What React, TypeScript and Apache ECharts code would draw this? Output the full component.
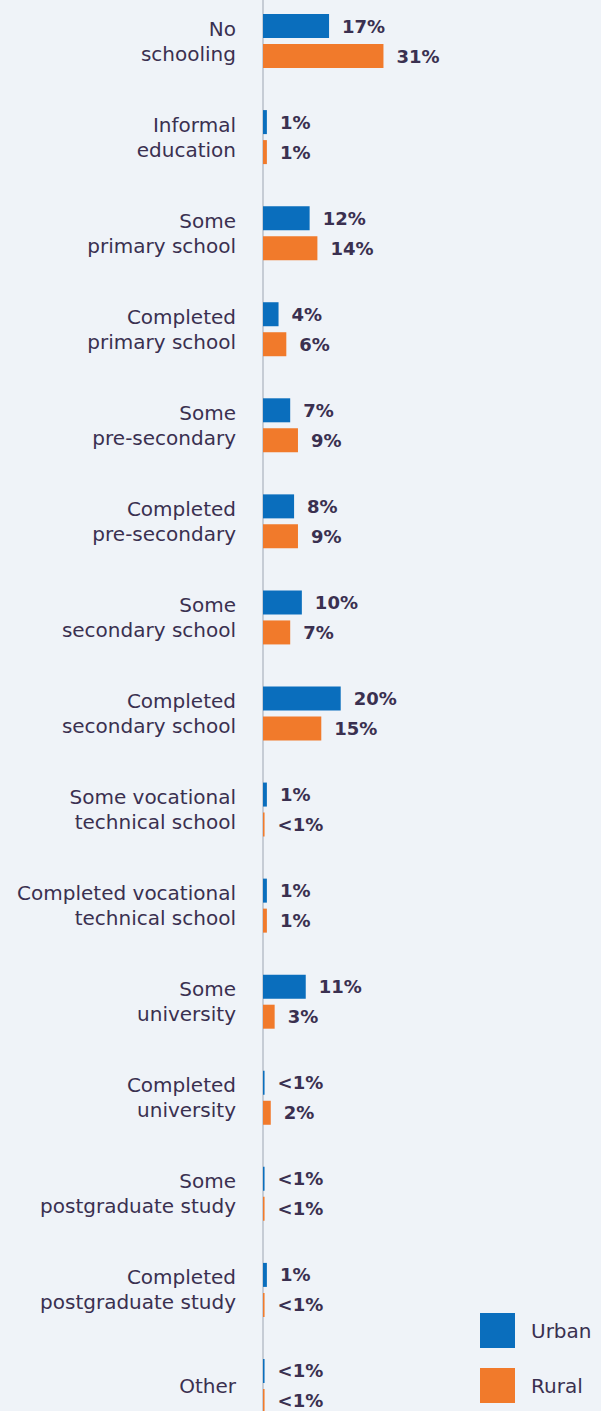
import React, { useEffect, useRef } from "react";
import * as echarts from "echarts";

const categories = [
  "No\nschooling",
  "Informal\neducation",
  "Some\nprimary school",
  "Completed\nprimary school",
  "Some\npre-secondary",
  "Completed\npre-secondary",
  "Some\nsecondary school",
  "Completed\nsecondary school",
  "Some vocational\ntechnical school",
  "Completed vocational\ntechnical school",
  "Some\nuniversity",
  "Completed\nuniversity",
  "Some\npostgraduate study",
  "Completed\npostgraduate study",
  "Other",
];

const urbanValues = [17, 1, 12, 4, 7, 8, 10, 20, 1, 1, 11, 0.4, 0.4, 1, 0.4];
const ruralValues = [31, 1, 14, 6, 9, 9, 7, 15, 0.4, 1, 3, 2, 0.4, 0.4, 0.4];

const urbanLabels = ["17%", "1%", "12%", "4%", "7%", "8%", "10%", "20%", "1%", "1%", "11%", "<1%", "<1%", "1%", "<1%"];
const ruralLabels = ["31%", "1%", "14%", "6%", "9%", "9%", "7%", "15%", "<1%", "1%", "3%", "2%", "<1%", "<1%", "<1%"];

const seriesNames = ["Urban", "Rural"];

const BG = "#eff3f8";
const TEXT = "#3a3050";
const FONT = "DejaVu Sans";

export default function App() {
  const ref = useRef<HTMLDivElement>(null);
  useEffect(() => {
    document.body.style.background = BG;
    document.body.style.margin = "0";
    document.body.style.overflow = "hidden";
    const chart = echarts.init(ref.current!, null, { renderer: "svg" });
    const labelStyle = (labels: string[]) => ({
      show: true,
      position: "right" as const,
      distance: 13,
      color: TEXT,
      fontFamily: FONT,
      fontSize: 18,
      fontWeight: 600,
      formatter: (p: any) => labels[p.dataIndex],
    });
    chart.setOption({
      animation: false,
      backgroundColor: BG,
      grid: { left: 263, right: 202, top: 0, bottom: 0, containLabel: false },
      xAxis: {
        type: "value",
        min: 0,
        max: 35,
        show: false,
      },
      yAxis: {
        type: "category",
        inverse: true,
        data: categories,
        axisLine: { show: true, lineStyle: { color: "#c6ccd5", width: 2 } },
        axisTick: { show: false },
        splitLine: { show: false },
        axisLabel: {
          margin: 27,
          color: TEXT,
          fontFamily: FONT,
          fontSize: 20,
          lineHeight: 25,
          align: "right",
          padding: [0, 0, 6, 0],
        },
      },
      legend: {
        orient: "vertical",
        left: 480,
        top: 1320,
        padding: 0,
        icon: "rect",
        itemWidth: 35,
        itemHeight: 35,
        itemGap: 20,
        data: seriesNames,
        textStyle: { color: TEXT, fontFamily: FONT, fontSize: 20, padding: [0, 0, 0, 11] },
      },
      series: [
        {
          name: seriesNames[0],
          type: "bar",
          data: urbanValues,
          barWidth: 24,
          barGap: "25%",
          itemStyle: { color: "#0a6ebd" },
          label: labelStyle(urbanLabels),
        },
        {
          name: seriesNames[1],
          type: "bar",
          data: ruralValues,
          barWidth: 24,
          itemStyle: { color: "#f17a2b" },
          label: labelStyle(ruralLabels),
        },
      ],
    });
    return () => chart.dispose();
  }, []);
  return (
    <div
      ref={ref}
      style={{ position: "fixed", left: 0, top: -7, width: 601, height: 1441, background: BG }}
    />
  );
}
